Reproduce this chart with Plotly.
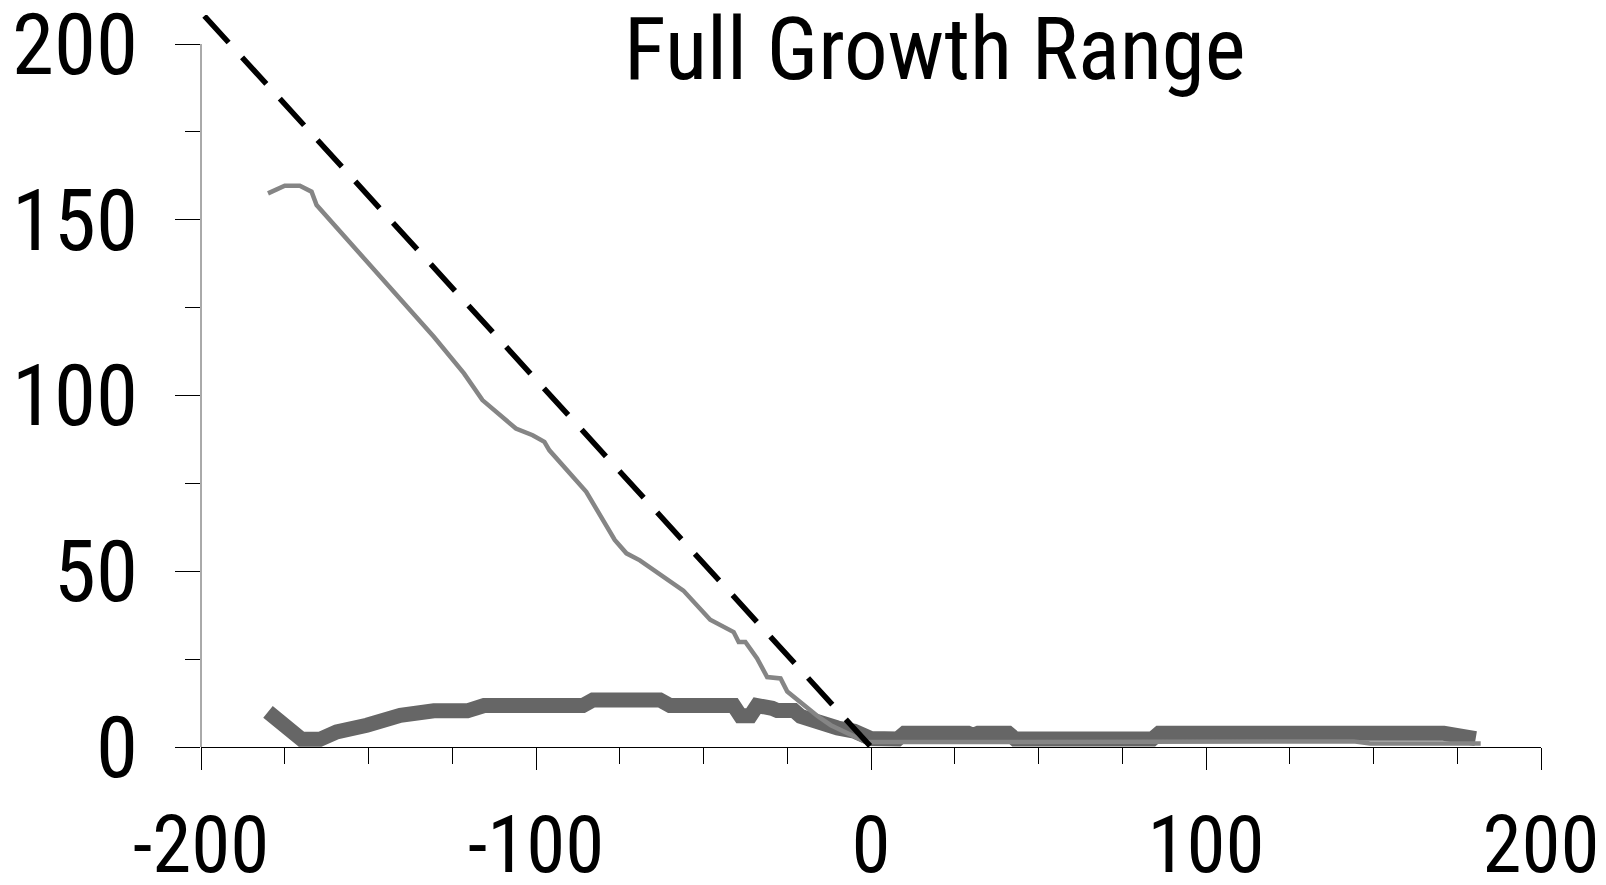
import plotly.graph_objects as go

# Reference diagonal (dashed)
ref_x = [-199, 0]
ref_y = [208, 0]

# Thin series
thin_x = [-180, -175, -170.5, -167, -165.5, -130.5, -121.5, -116, -106, -101, -97.5, -96,
          -85, -76.5, -73, -69, -56, -48, -41, -39.5, -37.5, -34, -31, -27, -25, -22,
          -19, -16, -12, -9, -5, -1.5, 5, 144, 149, 182]
thin_y = [157.5, 159.7, 159.7, 158, 154.2, 116.7, 106.3, 98.7, 90.6, 88.7, 86.8, 84.4,
          72.6, 58.9, 55.1, 53.1, 44.5, 36.2, 32.7, 29.9, 29.9, 25.2, 19.9, 19.5, 15.8, 13.5,
          11.4, 8.8, 6.2, 4.8, 2.8, 1.4, 1.4, 1.6, 1.0, 1.0]

# Thick series
thick_x = [-180, -172.5, -170, -164.5, -159.5, -150.5, -140.5, -130.5, -120.5, -115.5,
           -86, -83, -63, -60, -41, -39, -36, -34, -31, -29.5, -28, -23, -21, -17,
           -13, -10, -5, -2, 0, 8, 10, 29, 30.5, 32, 41, 43, 84, 86, 171, 180.5]
thick_y = [10.0, 3.8, 2.2, 2.2, 4.3, 6.2, 9.0, 10.3, 10.3, 11.8,
           11.8, 13.4, 13.4, 11.8, 11.8, 8.9, 8.9, 11.8, 11.8, 11.0, 10.4, 10.4, 8.7, 7.3,
           6.6, 5.4, 4.5, 3.0, 2.4, 2.3, 3.9, 3.9, 3.3, 3.9, 3.9, 2.3, 2.3, 3.9, 3.9, 2.4]

x_ticks = [-200, -100, 0, 100, 200]
y_ticks = [0, 50, 100, 150, 200]
title_text = "Full Growth Range"

X_RANGE = [-200, 200]
Y_MAX = 208.26

FONT = "Roboto Condensed, Liberation Sans, Arial, sans-serif"
XTICK_SIZE = 79
YTICK_SIZE = 85
TITLE_SIZE = 87

fig = go.Figure()
fig.add_trace(go.Scatter(x=thick_x, y=thick_y, mode="lines",
                         line=dict(color="#666666", width=15)))
fig.add_trace(go.Scatter(x=thin_x, y=thin_y, mode="lines",
                         line=dict(color="#858585", width=4.5)))
fig.add_trace(go.Scatter(x=ref_x, y=ref_y, mode="lines",
                         line=dict(color="black", width=5.5, dash="36px,20px")))

fig.update_layout(
    width=1606, height=885,
    margin=dict(l=201, r=65, t=15, b=138.3, pad=0),
    paper_bgcolor="white", plot_bgcolor="white",
    showlegend=False,
    font=dict(family=FONT, size=YTICK_SIZE, color="black"),
    xaxis=dict(
        range=X_RANGE, tickmode="array", tickvals=x_ticks,
        ticktext=[str(v) for v in x_ticks],
        ticks="outside", ticklen=22, tickwidth=1, tickcolor="black",
        minor=dict(dtick=25, ticks="outside", ticklen=16, tickwidth=1, tickcolor="black"),
        showline=True, linecolor="black", linewidth=1,
        showgrid=False, zeroline=False, ticklabelstandoff=7,
        automargin=False, ticklabeloverflow="allow",
        tickfont=dict(family=FONT, size=XTICK_SIZE, color="black"),
    ),
    yaxis=dict(
        range=[0, Y_MAX], tickmode="array", tickvals=y_ticks,
        ticktext=[str(v) for v in y_ticks],
        ticks="outside", ticklen=25, tickwidth=1, tickcolor="black",
        minor=dict(dtick=25, ticks="outside", ticklen=15, tickwidth=1, tickcolor="black"),
        showline=False, showgrid=False, zeroline=False, ticklabelstandoff=20,
        automargin=False, ticklabeloverflow="allow",
        tickfont=dict(family=FONT, size=YTICK_SIZE, color="black"),
    ),
    annotations=[dict(
        text=title_text, xref="paper", yref="paper", x=0.5474, y=0.954,
        xanchor="center", yanchor="middle", showarrow=False,
        font=dict(family=FONT, size=TITLE_SIZE, color="black"),
    )],
    shapes=[dict(
        type="line", xref="paper", yref="paper", x0=0, x1=0, y0=0, y1=200 / Y_MAX,
        line=dict(color="#555555", width=1), layer="above",
    )],
)

fig.write_html("out.html")
